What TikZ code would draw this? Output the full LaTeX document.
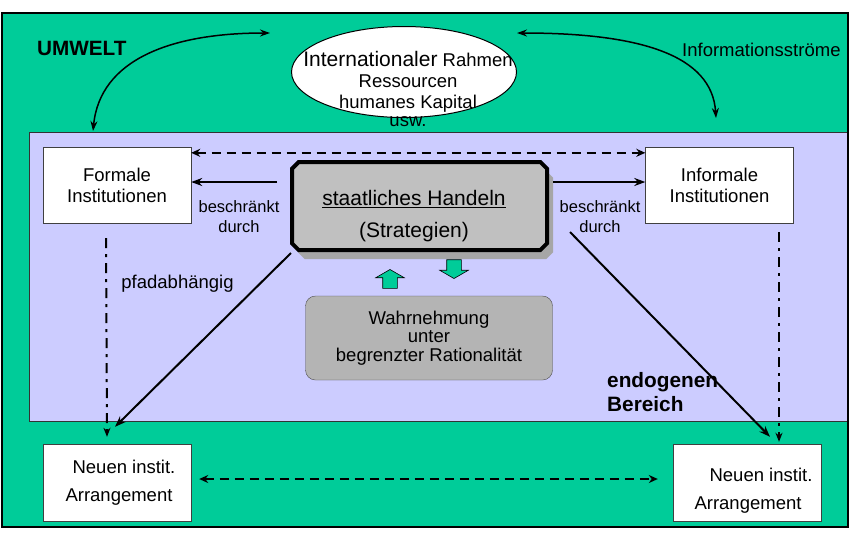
\documentclass[tikz,border=0pt]{standalone}
\usepackage{fontspec}
\setmainfont{Liberation Sans}
\usepackage{tikz}
\usetikzlibrary{arrows.meta, positioning, shapes.geometric, shapes.misc, shapes.arrows, shadows}

\definecolor{umweltgreen}{HTML}{00CC99}
\definecolor{bereichblue}{HTML}{CCCCFF}
\definecolor{handelngray}{HTML}{C0C0C0}
\definecolor{wahrgray}{HTML}{B4B4B4}

\newcommand{\mainsize}{\fontsize{18.5pt}{21pt}\selectfont}
\newcommand{\bigsize}{\fontsize{21pt}{24pt}\selectfont}
\newcommand{\notesize}{\fontsize{16.5pt}{20pt}\selectfont}

\begin{document}
\begin{tikzpicture}[x=1pt, y=-1pt,
  instbox/.style={draw=black!75, fill=white, minimum width=148pt, minimum height=76pt, align=center, font=\mainsize},
  flow/.style={line width=2pt, -{Stealth[length=11pt,width=8pt]}},
  pathdep/.style={line width=2pt, dash pattern=on 10pt off 6pt on 3pt off 6pt, -{Stealth[length=9pt,width=7pt]}},
  exchange/.style={line width=2.2pt, dash pattern=on 9pt off 6pt, {Stealth[length=9pt,width=8pt]}-{Stealth[length=9pt,width=8pt]}},
  infoflow/.style={line width=1.5pt, {Stealth[length=10pt,width=7pt]}-{Stealth[length=10pt,width=7pt]}},
  blockarrow/.style={single arrow, draw=black, fill=umweltgreen, line width=0.6pt, minimum height=14pt, minimum width=28pt, single arrow head extend=7pt, single arrow tip angle=120, inner sep=7pt},
  lbl/.style={inner sep=0pt}]

\useasboundingbox (0,0) rectangle (850,550);

% UMWELT und endogener Bereich
\fill[umweltgreen] (2,13) rectangle (848,527);
\filldraw[fill=bereichblue, draw=black!80, line width=1pt] (29,132) rectangle (848,421);
\draw[line width=2pt] (2,13) rectangle (848,527);

\node[lbl, anchor=west, font={\fontsize{20.7pt}{24pt}\selectfont\bfseries}] (Umwelt) at (37,48) {UMWELT};
\node[lbl, anchor=west, font=\mainsize] (Infostroeme) at (682,50) {Informationsströme};
\node[lbl, anchor=west, align=left, font={\fontsize{20.8pt}{24pt}\selectfont\bfseries}] (Endogen) at (607,392) {endogenen\\Bereich};

% Rahmen
\node[draw, ellipse, fill=white, line width=1pt, minimum width=225pt, minimum height=91pt] (Rahmen) at (404,72) {};
\node[lbl, align=center, font=\mainsize] (RahmenText) at (408,89)
  {{\bigsize Internationaler} Rahmen\\Ressourcen\\humanes Kapital\\[-3pt]usw.};

\node[instbox] (Formale) at (117,185) {Formale\\Institutionen};
\node[instbox] (Informale) at (719.5,185) {Informale\\Institutionen};

\node[chamfered rectangle, chamfered rectangle xsep=25pt, chamfered rectangle ysep=27pt, draw=black, line width=4pt, fill=handelngray, minimum width=255pt, minimum height=88pt, outer sep=0pt, drop shadow={shadow xshift=6pt, shadow yshift=-9pt, fill=black!35, opacity=1}] (Handeln) at (419.5,206) {};
\node[lbl, align=center, font=\bigsize] (HandelnText) at (414,216) {\underline{staatliches Handeln}\\[8.5pt](Strategien)};

\node[blockarrow, shape border rotate=270] (DownArrow) at (454,267) {};
\node[blockarrow, shape border rotate=90] (UpArrow) at (390,281) {};

\node[draw=black!70, fill=wahrgray, rounded corners=10pt, minimum width=247pt, minimum height=84pt, align=center, font={\fontsize{18.5pt}{18.5pt}\selectfont}] (Wahrnehmung) at (429,338) {Wahrnehmung\\unter\\begrenzter Rationalität};

\node[lbl, align=center, font=\notesize] (BeschrL) at (239,217) {beschränkt\\durch};
\node[lbl, align=center, font=\notesize] (BeschrR) at (600,217) {beschränkt\\durch};
\node[lbl, font=\mainsize] (Pfad) at (177.5,284) {pfadabhängig};

\node[instbox, minimum height=77pt] (NeuenL) at (117,482.5) {\hspace*{14pt}Neuen instit.\\[7pt]\hspace*{4pt}Arrangement};
\node[instbox, minimum height=77pt] (NeuenR) at (747,482.5) {};
\node[lbl, align=center, font=\mainsize] (NeuenRText) at (748,491) {\hspace*{26pt}Neuen instit.\\[7pt]Arrangement};

% Verbindungen
\draw[exchange] ([yshift=-6pt]Formale.north east) -- ([yshift=-6pt]Informale.north west);
\draw[flow] ([xshift=-15pt,yshift=24pt]Handeln.west) -- ([yshift=3pt]Formale.east);
\draw[flow] ([xshift=6pt,yshift=24pt]Handeln.east) -- ([yshift=3pt]Informale.west);
\draw[flow] ([xshift=-128.5pt,yshift=-3pt]Handeln.south) -- ([xshift=-2pt,yshift=17pt]NeuenL.north);
\draw[flow] ([xshift=23pt,yshift=-26pt]Handeln.east) -- ([xshift=23pt,yshift=7pt]NeuenR.north);
\draw[pathdep] ([xshift=-11pt,yshift=-15pt]Formale.south) -- ([xshift=-10pt,yshift=7pt]NeuenL.north);
\draw[pathdep] ([xshift=59.5pt,yshift=-9pt]Informale.south) -- ([xshift=32pt,yshift=2pt]NeuenR.north);
\draw[exchange] ([xshift=8pt,yshift=3.5pt]NeuenL.east) -- ([xshift=-15pt,yshift=3.5pt]NeuenR.west);

\coordinate (InfoL) at (93,131);
\coordinate (InfoLtop) at (270,33);
\coordinate (InfoRtop) at (517,33);
\coordinate (InfoR) at (716,118);
\draw[infoflow] (InfoL) .. controls (100,60) and (170,33) .. (InfoLtop);
\draw[infoflow] (InfoRtop) .. controls (640,33) and (712,55) .. (InfoR);

\end{tikzpicture}
\end{document}
